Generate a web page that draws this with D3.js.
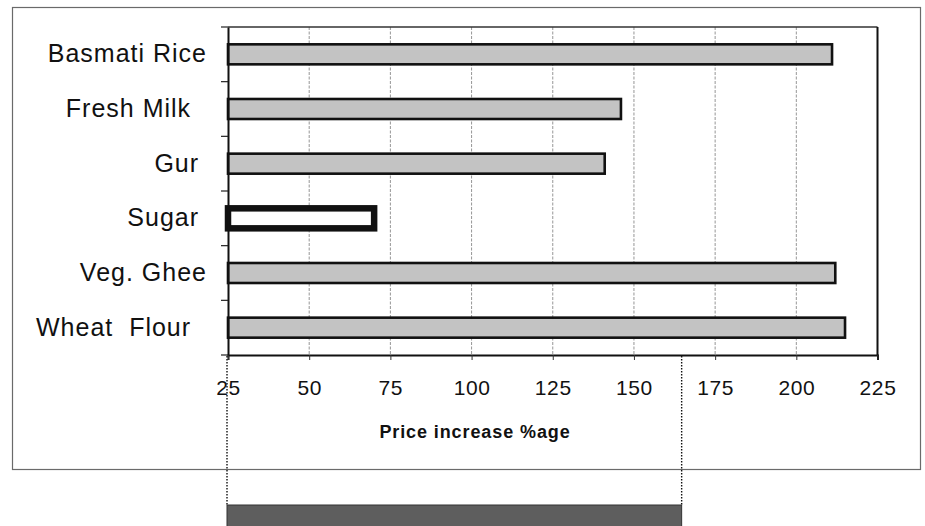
<!DOCTYPE html>
<html>
<head>
<meta charset="utf-8">
<script src="https://cdn.jsdelivr.net/npm/d3@7"></script>
<style>
  html, body { margin: 0; padding: 0; background: #fff; }
  svg { display: block; }
  text { font-family: "Liberation Sans", Arial, Helvetica, sans-serif; fill: #111; }
  .cat { white-space: pre; }
</style>
</head>
<body>
<svg id="chart" width="925" height="526"></svg>
<script>
// ---- data ----
const categories = ["Basmati Rice", "Fresh Milk  ", "Gur ", "Sugar ", "Veg. Ghee", "Wheat  Flour  "];
const values = [211, 146, 141, 70, 212, 215];
const highlighted = ["Sugar "];
const xTicks = [25, 50, 75, 100, 125, 150, 175, 200, 225];
const xDomain = [25, 225];
const xTitle = "Price increase %age";
const spanRange = [25, 165];

// ---- layout ----
const svg = d3.select("#chart");
const L = 228, R = 877.5, T = 27, B = 355;

const x = d3.scaleLinear().domain(xDomain).range([L, R]);
const y = d3.scaleBand().domain(categories).range([T, B]).paddingInner(0.634).paddingOuter(0.317);

// outer frame
svg.append("rect")
  .attr("x", 12.5).attr("y", 7.5).attr("width", 908).attr("height", 462)
  .attr("fill", "none").attr("stroke", "#6a6a6a").attr("stroke-width", 1.2);

// gridlines
svg.append("g").selectAll("line").data(xTicks.filter(d => d > xDomain[0] && d < xDomain[1]))
  .join("line")
  .attr("x1", d => x(d)).attr("x2", d => x(d))
  .attr("y1", T).attr("y2", B)
  .attr("stroke", "#8a8a8a").attr("stroke-width", 0.9).attr("stroke-dasharray", "3,1.5");

// plot frame top & right
svg.append("line").attr("x1", L).attr("x2", R).attr("y1", T).attr("y2", T)
  .attr("stroke", "#333").attr("stroke-width", 1.5);
svg.append("line").attr("x1", R).attr("x2", R).attr("y1", T).attr("y2", B)
  .attr("stroke", "#111").attr("stroke-width", 2);

// bars
svg.append("g").selectAll("rect").data(categories)
  .join("rect")
  .attr("x", x(xDomain[0]))
  .attr("y", d => y(d))
  .attr("width", (d, i) => x(values[i]) - x(xDomain[0]))
  .attr("height", y.bandwidth())
  .attr("fill", d => highlighted.includes(d) ? "#ffffff" : "#c3c3c3")
  .attr("stroke", "#111")
  .attr("stroke-width", d => highlighted.includes(d) ? 6.5 : 2.6);

// x axis
const xAxis = d3.axisBottom(x).tickValues(xTicks).tickSize(5).tickPadding(20).tickFormat(d3.format("d"));
const gx = svg.append("g").attr("transform", `translate(0,${B})`).call(xAxis);
gx.select(".domain").attr("stroke", "#111").attr("stroke-width", 2);
gx.selectAll(".tick line").attr("stroke", "#333");
gx.selectAll(".tick text").attr("font-size", 21).attr("letter-spacing", 0.6).attr("fill", "#111")
  .attr("font-family", '"Liberation Sans", Arial, sans-serif');

// y axis
const yAxis = d3.axisLeft(y).tickSize(0).tickPadding(21);
const gy = svg.append("g").attr("transform", `translate(${L},0)`).call(yAxis);
gy.select(".domain").attr("stroke", "#111").attr("stroke-width", 2);
gy.selectAll(".tick text").attr("class", "cat").attr("font-size", 25).attr("letter-spacing", 1)
  .attr("fill", "#111").attr("font-family", '"Liberation Sans", Arial, sans-serif');

// category separator ticks (band boundaries)
const step = y.step();
const bounds = d3.range(categories.length + 1).map(i => T + i * (B - T) / categories.length);
svg.append("g").selectAll("line").data(bounds).join("line")
  .attr("x1", L - 7).attr("x2", L).attr("y1", d => d).attr("y2", d => d)
  .attr("stroke", "#222").attr("stroke-width", 1.2);

// axis title
svg.append("text").attr("x", 475).attr("y", 438).attr("text-anchor", "middle")
  .attr("font-size", 18).attr("font-weight", "bold").attr("letter-spacing", 0.9).text(xTitle);

// dotted span guides and dark bar
svg.append("g").selectAll("line").data(spanRange).join("line")
  .attr("x1", d => x(d) - 1).attr("x2", d => x(d) - 1)
  .attr("y1", B + 1).attr("y2", 505)
  .attr("stroke", "#111").attr("stroke-width", 1.4).attr("stroke-dasharray", "1.5,1.5");
svg.append("rect")
  .attr("x", x(spanRange[0]) - 1).attr("y", 505)
  .attr("width", x(spanRange[1]) - x(spanRange[0]))
  .attr("height", 30)
  .attr("fill", "#5e5e5e").attr("stroke", "#333").attr("stroke-width", 1);
</script>
</body>
</html>
